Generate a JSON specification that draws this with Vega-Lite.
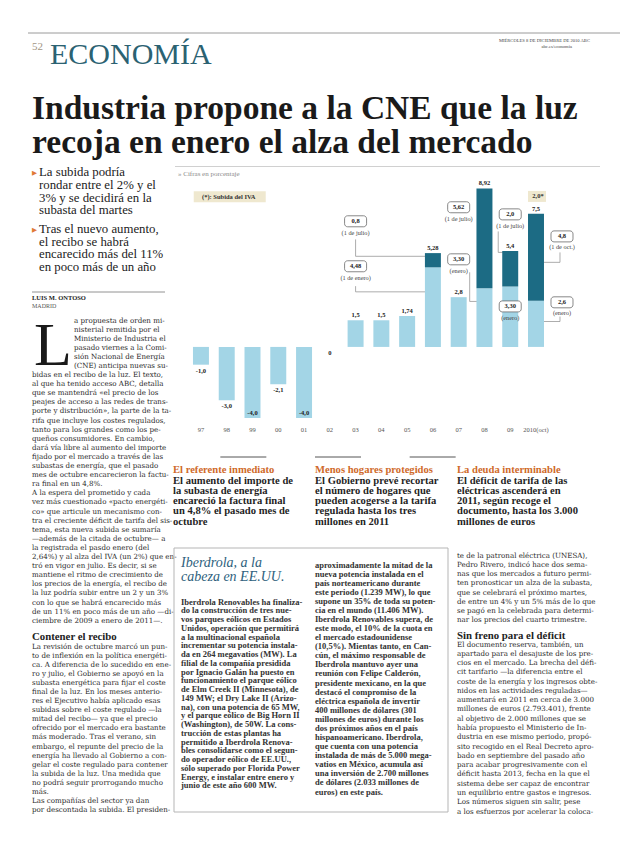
{
"$schema":"https://vega.github.io/schema/vega-lite/v6.json",
"width":620,"height":847,"autosize":{"type":"none"},"padding":0,"background":"#ffffff",
"config":{"view":{"stroke":null},"axis":{"labelFont":"Liberation Serif"}},
"datasets":{
 "bars":[{"year":"97","part":"base","value":-1.0},{"year":"98","part":"base","value":-3.0},{"year":"99","part":"base","value":-4.0},{"year":"00","part":"base","value":-2.1},{"year":"01","part":"base","value":-4.0},{"year":"02","part":"base","value":0},{"year":"03","part":"base","value":1.5},{"year":"04","part":"base","value":1.5},{"year":"05","part":"base","value":1.74},{"year":"06","part":"base","value":4.48},{"year":"06","part":"inc","value":0.8},{"year":"07","part":"base","value":2.8},{"year":"08","part":"base","value":3.3},{"year":"08","part":"inc","value":5.62},{"year":"09","part":"base","value":3.4},{"year":"09","part":"inc","value":2.0},{"year":"2010(oct)","part":"base","value":2.6},{"year":"2010(oct)","part":"inc","value":4.9}],
 "totals":[{"year":"97","total":-1.0,"label":"-1,0"},{"year":"98","total":-3.0,"label":"-3,0"},{"year":"99","total":-4.0,"label":"-4,0"},{"year":"00","total":-2.1,"label":"-2,1"},{"year":"01","total":-4.0,"label":"-4,0"},{"year":"02","total":0,"label":"0"},{"year":"03","total":1.5,"label":"1,5"},{"year":"04","total":1.5,"label":"1,5"},{"year":"05","total":1.74,"label":"1,74"},{"year":"06","total":5.28,"label":"5,28"},{"year":"07","total":2.8,"label":"2,8"},{"year":"08","total":8.92,"label":"8,92"},{"year":"09","total":5.4,"label":"5,4"},{"year":"2010(oct)","total":7.5,"label":"7,5"}],
 "notes":[{"year":"03","level":7.07,"num":"0,8","note":"(1 de julio)"},{"year":"03","level":4.54,"num":"4,48","note":"(1 de enero)"},{"year":"07","level":7.86,"num":"5,62","note":"(1 de julio)"},{"year":"07","level":4.93,"num":"3,30","note":"(enero)"},{"year":"09","level":7.46,"num":"2,0","note":"(1 de julio)"},{"year":"09","level":2.28,"num":"3,30","note":"(enero)"},{"year":"2010(oct)","level":6.22,"num":"4,8","note":"(1 de oct.)"},{"year":"2010(oct)","level":2.51,"num":"2,6","note":"(enero)"}],
 "links":[{"grp":"06","seg":"v","year":"03","year2":"03","level":6.05,"level2":5.1},{"grp":"06","seg":"h","year":"03","year2":"06","level":5.1,"level2":5.1},{"grp":"06","seg":"v","year":"03","year2":"03","level":3.42,"level2":3.1},{"grp":"06","seg":"h","year":"03","year2":"06","level":3.1,"level2":3.1},{"grp":"08","seg":"v","year":"07","year2":"07","level":4.2,"level2":2.56},{"grp":"08","seg":"h","year":"07","year2":"08","level":2.56,"level2":2.56},{"grp":"09","seg":"v","year":"09","year2":"09","level":6.5,"level2":5.32},{"grp":"09","seg":"h","year":"09","year2":"09","level":5.32,"level2":5.32},{"grp":"10","seg":"v","year":"2010(oct)","year2":"2010(oct)","level":5.32,"level2":4.76},{"grp":"10","seg":"h","year":"2010(oct)","year2":"2010(oct)","level":4.76,"level2":4.76},{"grp":"10","seg":"v","year":"2010(oct)","year2":"2010(oct)","level":1.71,"level2":1.43},{"grp":"10","seg":"h","year":"2010(oct)","year2":"2010(oct)","level":1.43,"level2":1.43}],
 "keys":[{"year":"98","level":8.45,"text":"(*): Subida del IVA"},{"year":"2010(oct)","level":8.47,"text":"2,0*"}]
},
"resolve":{"scale":{"x":"independent","y":"independent"}},
"layer":[
 {"data":{"values":[{"k":"a"}]},"mark":{"type":"rule","color":"#9a9a9a","strokeWidth":1,"x2Offset":592},"encoding":{"x":{"field":"k","type":"nominal","scale":{"range":[28,28]},"axis":null},"x2":{"field":"k"},"y":{"field":"k","type":"nominal","scale":{"range":[33,33]},"axis":null}}},
 {"data":{"values":[{"k":"a","t":"52"}]},"mark":{"type":"text","align":"left","baseline":"alphabetic","font":"Liberation Serif","fontSize":11,"color":"#a39584"},"encoding":{"x":{"field":"k","type":"nominal","scale":{"range":[32,32]},"axis":null},"y":{"field":"k","type":"nominal","scale":{"range":[50,50]},"axis":null},"text":{"field":"t"}}},
 {"data":{"values":[{"k":"a","t":"ECONOMÍA"}]},"mark":{"type":"text","align":"left","baseline":"alphabetic","font":"Liberation Serif","fontSize":30,"color":"#2b6272"},"encoding":{"x":{"field":"k","type":"nominal","scale":{"range":[50,50]},"axis":null},"y":{"field":"k","type":"nominal","scale":{"range":[64,64]},"axis":null},"text":{"field":"t"}}},
 {"data":{"values":[{"k":"a","t":"MIÉRCOLES 8 DE DICIEMBRE DE 2010      ABC"}]},"mark":{"type":"text","align":"right","baseline":"alphabetic","font":"Liberation Serif","fontSize":4.6,"color":"#444444"},"encoding":{"x":{"field":"k","type":"nominal","scale":{"range":[590,590]},"axis":null},"y":{"field":"k","type":"nominal","scale":{"range":[42,42]},"axis":null},"text":{"field":"t"}}},
 {"data":{"values":[{"k":"a","t":"abc.es/economia"}]},"mark":{"type":"text","align":"right","baseline":"alphabetic","font":"Liberation Serif","fontSize":4.6,"color":"#444444"},"encoding":{"x":{"field":"k","type":"nominal","scale":{"range":[572,572]},"axis":null},"y":{"field":"k","type":"nominal","scale":{"range":[48,48]},"axis":null},"text":{"field":"t"}}},
 {"data":{"values":[{"k":"a","t":"Industria propone a la CNE que la luz\nrecoja en enero el alza del mercado"}]},"mark":{"type":"text","align":"left","baseline":"alphabetic","font":"Liberation Serif","fontSize":33.5,"fontWeight":"bold","color":"#1a1a1a","lineBreak":"\n","lineHeight":33.6},"encoding":{"x":{"field":"k","type":"nominal","scale":{"range":[32,32]},"axis":null},"y":{"field":"k","type":"nominal","scale":{"range":[119,119]},"axis":null},"text":{"field":"t"}}},
 {"data":{"values":[{"k":"b1","t":"▶"},{"k":"b2","t":"▶"}]},"mark":{"type":"text","align":"left","baseline":"alphabetic","font":"DejaVu Sans","fontSize":6.5,"color":"#e07a35"},"encoding":{"x":{"field":"k","type":"nominal","scale":{"range":[32,32]},"axis":null},"y":{"field":"k","type":"nominal","scale":{"domain":["b1","b2"],"range":[174.5,231.5],"padding":0},"axis":null},"text":{"field":"t"}}},
 {"data":{"values":[{"k":"a","t":"La subida podría\nrondar entre el 2% y el\n3% y se decidirá en la\nsubasta del martes"}]},"mark":{"type":"text","align":"left","baseline":"alphabetic","font":"Liberation Serif","fontSize":12.8,"color":"#222222","lineBreak":"\n","lineHeight":12.8},"encoding":{"x":{"field":"k","type":"nominal","scale":{"range":[39,39]},"axis":null},"y":{"field":"k","type":"nominal","scale":{"range":[176,176]},"axis":null},"text":{"field":"t"}}},
 {"data":{"values":[{"k":"a","t":"Tras el nuevo aumento,\nel recibo se habrá\nencarecido más del 11%\nen poco más de un año"}]},"mark":{"type":"text","align":"left","baseline":"alphabetic","font":"Liberation Serif","fontSize":12.8,"color":"#222222","lineBreak":"\n","lineHeight":12.5},"encoding":{"x":{"field":"k","type":"nominal","scale":{"range":[39,39]},"axis":null},"y":{"field":"k","type":"nominal","scale":{"range":[233,233]},"axis":null},"text":{"field":"t"}}},
 {"data":{"values":[{"k":"a"}]},"mark":{"type":"rule","color":"#777777","strokeWidth":0.8,"x2Offset":133},"encoding":{"x":{"field":"k","type":"nominal","scale":{"range":[32,32]},"axis":null},"x2":{"field":"k"},"y":{"field":"k","type":"nominal","scale":{"range":[292,292]},"axis":null}}},
 {"data":{"values":[{"k":"a","t":"LUIS M. ONTOSO"}]},"mark":{"type":"text","align":"left","baseline":"alphabetic","font":"Liberation Serif","fontSize":6.5,"fontWeight":"bold","color":"#222222"},"encoding":{"x":{"field":"k","type":"nominal","scale":{"range":[32,32]},"axis":null},"y":{"field":"k","type":"nominal","scale":{"range":[299.5,299.5]},"axis":null},"text":{"field":"t"}}},
 {"data":{"values":[{"k":"a","t":"MADRID"}]},"mark":{"type":"text","align":"left","baseline":"alphabetic","font":"Liberation Serif","fontSize":6,"color":"#555555"},"encoding":{"x":{"field":"k","type":"nominal","scale":{"range":[32,32]},"axis":null},"y":{"field":"k","type":"nominal","scale":{"range":[307.5,307.5]},"axis":null},"text":{"field":"t"}}},
 {"data":{"values":[{"k":"a","t":"L"}]},"mark":{"type":"text","align":"left","baseline":"alphabetic","font":"Liberation Serif","fontSize":62,"color":"#1a1a1a"},"encoding":{"x":{"field":"k","type":"nominal","scale":{"range":[34,34]},"axis":null},"y":{"field":"k","type":"nominal","scale":{"range":[365,365]},"axis":null},"text":{"field":"t"}}},
 {"data":{"values":[{"k":"a","t":"a propuesta de orden mi-\nnisterial remitida por el\nMinisterio de Industria el\npasado viernes a la Comi-\nsión Nacional de Energía\n(CNE) anticipa nuevas su-"}]},"mark":{"type":"text","align":"left","baseline":"alphabetic","font":"DejaVu Serif","fontSize":7.1,"color":"#2a2a2a","lineBreak":"\n","lineHeight":9.1},"encoding":{"x":{"field":"k","type":"nominal","scale":{"range":[74,74]},"axis":null},"y":{"field":"k","type":"nominal","scale":{"range":[322.5,322.5]},"axis":null},"text":{"field":"t"}}},
 {"data":{"values":[{"k":"a","t":"bidas en el recibo de la luz. El texto,\nal que ha tenido acceso ABC, detalla\nque se mantendrá «el precio de los\npeajes de acceso a las redes de trans-\nporte y distribución», la parte de la ta-\nrifa que incluye los costes regulados,\ntanto para los grandes como los pe-\nqueños consumidores. En cambio,\ndará vía libre al aumento del importe\nfijado por el mercado a través de las\nsubastas de energía, que el pasado\nmes de octubre encarecieron la factu-\nra final en un 4,8%.\n    A la espera del prometido y cada\nvez más cuestionado «pacto energéti-\nco» que articule un mecanismo con-\ntra el creciente déficit de tarifa del sis-\ntema, esta nueva subida se sumaría\n—además de la citada de octubre— a\nla registrada el pasdo enero (del\n2,64%) y al alza del IVA (un 2%) que en-\ntró en vigor en julio. Es decir, si se\nmantiene el ritmo de crecimiento de\nlos precios de la energía, el recibo de\nla luz podría subir entre un 2 y un 3%\ncon lo que se habrá encarecido más\nde un 11% en poco más de un año —di-\nciembre de 2009 a enero de 2011—."}]},"mark":{"type":"text","align":"left","baseline":"alphabetic","font":"DejaVu Serif","fontSize":7.1,"color":"#2a2a2a","lineBreak":"\n","lineHeight":9.1},"encoding":{"x":{"field":"k","type":"nominal","scale":{"range":[32,32]},"axis":null},"y":{"field":"k","type":"nominal","scale":{"range":[377.1,377.1]},"axis":null},"text":{"field":"t"}}},
 {"data":{"values":[{"k":"a","t":"Contener el recibo"}]},"mark":{"type":"text","align":"left","baseline":"alphabetic","font":"Liberation Serif","fontSize":10.8,"fontWeight":"bold","color":"#222222"},"encoding":{"x":{"field":"k","type":"nominal","scale":{"range":[32,32]},"axis":null},"y":{"field":"k","type":"nominal","scale":{"range":[640,640]},"axis":null},"text":{"field":"t"}}},
 {"data":{"values":[{"k":"a","t":"La revisión de octubre marcó un pun-\nto de inflexión en la política energéti-\nca. A diferencia de lo sucedido en ene-\nro y julio, el Gobierno se apoyó en la\nsubasta energética para fijar el coste\nfinal de la luz. En los meses anterio-\nres el Ejecutivo había aplicado esas\nsubidas sobre el coste regulado —la\nmitad del recibo— ya que el precio\nofrecido por el mercado era bastante\nmás moderado. Tras el verano, sin\nembargo, el repunte del precio de la\nenergía ha llevado al Gobierno a con-\ngelar el coste regulado para contener\nla subida de la luz. Una medida que\nno podrá seguir prorrogando mucho\nmás.\n    Las compañías del sector ya dan\npor descontada la subida. El presiden-"}]},"mark":{"type":"text","align":"left","baseline":"alphabetic","font":"DejaVu Serif","fontSize":7.1,"color":"#2a2a2a","lineBreak":"\n","lineHeight":9.1},"encoding":{"x":{"field":"k","type":"nominal","scale":{"range":[32,32]},"axis":null},"y":{"field":"k","type":"nominal","scale":{"range":[648.5,648.5]},"axis":null},"text":{"field":"t"}}},
 {"data":{"values":[{"k":"a"}]},"mark":{"type":"rule","color":"#d0d0d0","strokeWidth":1,"x2Offset":425},"encoding":{"x":{"field":"k","type":"nominal","scale":{"range":[175,175]},"axis":null},"x2":{"field":"k"},"y":{"field":"k","type":"nominal","scale":{"range":[166.5,166.5]},"axis":null}}},
 {"data":{"values":[{"k":"a","t":"»  Cifras en porcentaje"}]},"mark":{"type":"text","align":"left","baseline":"alphabetic","font":"Liberation Serif","fontSize":7,"color":"#8a8a8a"},"encoding":{"x":{"field":"k","type":"nominal","scale":{"range":[178,178]},"axis":null},"y":{"field":"k","type":"nominal","scale":{"range":[175.5,175.5]},"axis":null},"text":{"field":"t"}}},
 {
  "encoding":{"x":{"field":"year","type":"ordinal","scale":{"domain":["97","98","99","00","01","02","03","04","05","06","07","08","09","2010(oct)"],"range":[186,578],"paddingInner":0.38,"paddingOuter":0.795,"align":0.17},"axis":{"orient":"bottom","offset":-429,"domain":false,"ticks":false,"grid":false,"labelAngle":0,"labelPadding":8,"labelFontSize":6.5,"labelColor":"#555555","labelFont":"Liberation Serif","title":null}}},
  "layer":[
   {"data":{"name":"links"},"transform":[{"filter":"datum.grp === '06'"}],"mark":{"type":"rule","color":"#8a8a8a","strokeWidth":0.7},"encoding":{"x2":{"field":"year2"},"y":{"field":"level","type":"quantitative","scale":{"domain":[-4,9],"range":[418,187],"nice":false,"zero":false},"axis":null},"y2":{"field":"level2"}}},
   {"data":{"name":"links"},"transform":[{"filter":"datum.grp === '08' && datum.seg === 'v'"}],"mark":{"type":"rule","color":"#8a8a8a","strokeWidth":0.7,"xOffset":11,"x2Offset":11},"encoding":{"x2":{"field":"year2"},"y":{"field":"level","type":"quantitative","scale":{"domain":[-4,9],"range":[418,187],"nice":false,"zero":false},"axis":null},"y2":{"field":"level2"}}},
   {"data":{"name":"links"},"transform":[{"filter":"datum.grp === '08' && datum.seg === 'h'"}],"mark":{"type":"rule","color":"#8a8a8a","strokeWidth":0.7,"xOffset":11,"x2Offset":0},"encoding":{"x2":{"field":"year2"},"y":{"field":"level","type":"quantitative","scale":{"domain":[-4,9],"range":[418,187],"nice":false,"zero":false},"axis":null},"y2":{"field":"level2"}}},
   {"data":{"name":"links"},"transform":[{"filter":"datum.grp === '09' && datum.seg === 'v'"}],"mark":{"type":"rule","color":"#8a8a8a","strokeWidth":0.7,"xOffset":-12,"x2Offset":-12},"encoding":{"x2":{"field":"year2"},"y":{"field":"level","type":"quantitative","scale":{"domain":[-4,9],"range":[418,187],"nice":false,"zero":false},"axis":null},"y2":{"field":"level2"}}},
   {"data":{"name":"links"},"transform":[{"filter":"datum.grp === '09' && datum.seg === 'h'"}],"mark":{"type":"rule","color":"#8a8a8a","strokeWidth":0.7,"xOffset":-12,"x2Offset":0},"encoding":{"x2":{"field":"year2"},"y":{"field":"level","type":"quantitative","scale":{"domain":[-4,9],"range":[418,187],"nice":false,"zero":false},"axis":null},"y2":{"field":"level2"}}},
   {"data":{"name":"links"},"transform":[{"filter":"datum.grp === '10' && datum.seg === 'v'"}],"mark":{"type":"rule","color":"#8a8a8a","strokeWidth":0.7,"xOffset":24,"x2Offset":24},"encoding":{"x2":{"field":"year2"},"y":{"field":"level","type":"quantitative","scale":{"domain":[-4,9],"range":[418,187],"nice":false,"zero":false},"axis":null},"y2":{"field":"level2"}}},
   {"data":{"name":"links"},"transform":[{"filter":"datum.grp === '10' && datum.seg === 'h'"}],"mark":{"type":"rule","color":"#8a8a8a","strokeWidth":0.7,"xOffset":24,"x2Offset":0},"encoding":{"x2":{"field":"year2"},"y":{"field":"level","type":"quantitative","scale":{"domain":[-4,9],"range":[418,187],"nice":false,"zero":false},"axis":null},"y2":{"field":"level2"}}},
   {"data":{"name":"bars"},"mark":{"type":"bar"},"encoding":{"y":{"field":"value","type":"quantitative","stack":"zero","scale":{"domain":[-4,9],"range":[418,187],"nice":false,"zero":false},"axis":{"orient":"left","offset":-186,"values":[-4,-3,-2,-1,0,1,2,3,4,5,6,7,8,9],"grid":true,"gridColor":"#d6d6d6","gridWidth":0.8,"domain":false,"ticks":false,"labelPadding":3,"labelFontSize":7,"labelColor":"#333333","title":null}},"color":{"field":"part","type":"nominal","scale":{"domain":["base","inc"],"range":["#a3d5e6","#1c6b84"]},"legend":null},"order":{"field":"part","type":"ordinal","sort":"ascending"}}},
   {"data":{"name":"totals"},"transform":[{"filter":"datum.total > 0"}],"mark":{"type":"text","baseline":"alphabetic","dy":-3,"font":"Liberation Serif","fontSize":6.5,"fontWeight":"bold","color":"#222222"},"encoding":{"y":{"field":"total","type":"quantitative","scale":{"domain":[-4,9],"range":[418,187],"nice":false,"zero":false},"axis":null},"text":{"field":"label"}}},
   {"data":{"name":"totals"},"transform":[{"filter":"datum.total <= 0 && datum.total > -3.9"}],"mark":{"type":"text","baseline":"top","dy":3,"font":"Liberation Serif","fontSize":6.5,"fontWeight":"bold","color":"#222222"},"encoding":{"y":{"field":"total","type":"quantitative","scale":{"domain":[-4,9],"range":[418,187],"nice":false,"zero":false},"axis":null},"text":{"field":"label"}}},
   {"data":{"name":"totals"},"transform":[{"filter":"datum.total <= -3.9"}],"mark":{"type":"text","baseline":"alphabetic","dy":-3,"font":"Liberation Serif","fontSize":6.5,"fontWeight":"bold","color":"#222222"},"encoding":{"y":{"field":"total","type":"quantitative","scale":{"domain":[-4,9],"range":[418,187],"nice":false,"zero":false},"axis":null},"text":{"field":"label"}}},
   {"data":{"name":"keys"},"transform":[{"filter":"datum.year === '98'"}],"mark":{"type":"point","shape":"M-36,-5.5H36V5.5H-36Z","size":4,"filled":true,"fill":"#efe8cf","strokeWidth":0,"opacity":1,"xOffset":3},"encoding":{"y":{"field":"level","type":"quantitative","scale":{"domain":[-4,9],"range":[418,187],"nice":false,"zero":false},"axis":null}}},
   {"data":{"name":"keys"},"transform":[{"filter":"datum.year === '2010(oct)'"}],"mark":{"type":"point","shape":"M-9,-5.5H9V5.5H-9Z","size":4,"filled":true,"fill":"#efe8cf","strokeWidth":0,"opacity":1,"xOffset":1},"encoding":{"y":{"field":"level","type":"quantitative","scale":{"domain":[-4,9],"range":[418,187],"nice":false,"zero":false},"axis":null}}},
   {"data":{"name":"keys"},"mark":{"type":"text","baseline":"middle","font":"Liberation Serif","fontSize":6.5,"fontWeight":"bold","color":"#333333","xOffset":2},"encoding":{"y":{"field":"level","type":"quantitative","scale":{"domain":[-4,9],"range":[418,187],"nice":false,"zero":false},"axis":null},"text":{"field":"text"}}},
   {"data":{"name":"notes"},"transform":[{"filter":"datum.year !== '2010(oct)'"}],"mark":{"type":"point","shape":"M-8,-5.5H8A3,3 0 0 1 11,-2.5V2.5A3,3 0 0 1 8,5.5H-8A3,3 0 0 1 -11,2.5V-2.5A3,3 0 0 1 -8,-5.5Z","size":4,"filled":true,"fill":"#ffffff","stroke":"#6a6a6a","strokeWidth":0.8,"opacity":1},"encoding":{"y":{"field":"level","type":"quantitative","scale":{"domain":[-4,9],"range":[418,187],"nice":false,"zero":false},"axis":null}}},
   {"data":{"name":"notes"},"transform":[{"filter":"datum.year === '2010(oct)'"}],"mark":{"type":"point","shape":"M-8,-5.5H8A3,3 0 0 1 11,-2.5V2.5A3,3 0 0 1 8,5.5H-8A3,3 0 0 1 -11,2.5V-2.5A3,3 0 0 1 -8,-5.5Z","size":4,"filled":true,"fill":"#ffffff","stroke":"#6a6a6a","strokeWidth":0.8,"opacity":1,"xOffset":26},"encoding":{"y":{"field":"level","type":"quantitative","scale":{"domain":[-4,9],"range":[418,187],"nice":false,"zero":false},"axis":null}}},
   {"data":{"name":"notes"},"transform":[{"filter":"datum.year !== '2010(oct)'"}],"mark":{"type":"text","baseline":"middle","font":"Liberation Serif","fontSize":6.5,"fontWeight":"bold","color":"#222222"},"encoding":{"y":{"field":"level","type":"quantitative","scale":{"domain":[-4,9],"range":[418,187],"nice":false,"zero":false},"axis":null},"text":{"field":"num"}}},
   {"data":{"name":"notes"},"transform":[{"filter":"datum.year === '2010(oct)'"}],"mark":{"type":"text","baseline":"middle","font":"Liberation Serif","fontSize":6.5,"fontWeight":"bold","color":"#222222","xOffset":26},"encoding":{"y":{"field":"level","type":"quantitative","scale":{"domain":[-4,9],"range":[418,187],"nice":false,"zero":false},"axis":null},"text":{"field":"num"}}},
   {"data":{"name":"notes"},"transform":[{"filter":"datum.year !== '2010(oct)'"}],"mark":{"type":"text","baseline":"middle","dy":12,"font":"Liberation Serif","fontSize":6.3,"color":"#444444"},"encoding":{"y":{"field":"level","type":"quantitative","scale":{"domain":[-4,9],"range":[418,187],"nice":false,"zero":false},"axis":null},"text":{"field":"note"}}},
   {"data":{"name":"notes"},"transform":[{"filter":"datum.year === '2010(oct)'"}],"mark":{"type":"text","baseline":"middle","dy":11,"font":"Liberation Serif","fontSize":6.3,"color":"#444444","xOffset":26},"encoding":{"y":{"field":"level","type":"quantitative","scale":{"domain":[-4,9],"range":[418,187],"nice":false,"zero":false},"axis":null},"text":{"field":"note"}}}
  ]
 },
 {"data":{"values":[{"c":"c1"},{"c":"c2"},{"c":"c3"}]},"mark":{"type":"rule","color":"#555555","strokeWidth":1,"x2Offset":46},"encoding":{"x":{"field":"c","type":"nominal","scale":{"domain":["c1","c2","c3"],"range":[173,457],"padding":0},"axis":null},"x2":{"field":"c"},"y":{"field":"c","type":"nominal","scale":{"range":[457,457]},"axis":null}}},
 {"data":{"values":[{"c":"c1","t":"El referente inmediato"},{"c":"c2","t":"Menos hogares protegidos"},{"c":"c3","t":"La deuda interminable"}]},"mark":{"type":"text","align":"left","baseline":"alphabetic","font":"Liberation Serif","fontSize":10.6,"fontWeight":"bold","color":"#cf6a2a"},"encoding":{"x":{"field":"c","type":"nominal","scale":{"domain":["c1","c2","c3"],"range":[173,457],"padding":0},"axis":null},"y":{"field":"c","type":"nominal","scale":{"range":[473.2,473.2]},"axis":null},"text":{"field":"t"}}},
 {"data":{"values":[{"c":"c1","t":"El aumento del importe de\nla subasta de energía\nencareció la factura final\nun 4,8% el pasado mes de\noctubre"},{"c":"c2","t":"El Gobierno prevé recortar\nel número de hogares que\npueden acogerse a la tarifa\nregulada hasta los tres\nmillones en 2011"},{"c":"c3","t":"El déficit de tarifa de las\neléctricas ascenderá en\n2011, según recoge el\ndocumento, hasta los 3.000\nmillones de euros"}]},"mark":{"type":"text","align":"left","baseline":"alphabetic","font":"Liberation Serif","fontSize":10.6,"fontWeight":"bold","color":"#1f1f1f","lineBreak":"\n","lineHeight":10.3},"encoding":{"x":{"field":"c","type":"nominal","scale":{"domain":["c1","c2","c3"],"range":[173,457],"padding":0},"axis":null},"y":{"field":"c","type":"nominal","scale":{"range":[483.6,483.6]},"axis":null},"text":{"field":"t"}}},
 {"data":{"values":[{"k":"a"}]},"mark":{"type":"point","shape":"M-137,-132H137V132H-137Z","size":4,"filled":false,"stroke":"#b5b5b5","strokeWidth":1,"opacity":1},"encoding":{"x":{"field":"k","type":"nominal","scale":{"range":[311,311]},"axis":null},"y":{"field":"k","type":"nominal","scale":{"range":[680,680]},"axis":null}}},
 {"data":{"values":[{"k":"a","t":"Iberdrola, a la\ncabeza en EE.UU."}]},"mark":{"type":"text","align":"left","baseline":"alphabetic","font":"Liberation Serif","fontSize":14,"fontStyle":"italic","color":"#2e5f7d","lineBreak":"\n","lineHeight":14.2},"encoding":{"x":{"field":"k","type":"nominal","scale":{"range":[181,181]},"axis":null},"y":{"field":"k","type":"nominal","scale":{"range":[567,567]},"axis":null},"text":{"field":"t"}}},
 {"data":{"values":[{"k":"a","t":"Iberdrola Renovables ha finaliza-\ndo la construcción de tres nue-\nvos parques eólicos en Estados\nUnidos, operación que permitirá\na la multinacional española\nincrementar su potencia instala-\nda en 264 megavatios (MW). La\nfilial de la compañía presidida\npor Ignacio Galán ha puesto en\nfuncionamiento el parque eólico\nde Elm Creek II (Minnesota), de\n149 MW; el Dry Lake II (Arizo-\nna), con una potencia de 65 MW,\ny el parque eólico de Big Horn II\n(Washington), de 50W. La cons-\ntrucción de estas plantas ha\npermitido a Iberdrola Renova-\nbles consolidarse como el segun-\ndo operador eólico de EE.UU.,\nsólo superado por Florida Power\nEnergy, e instalar entre enero y\njunio de este año 600 MW."}]},"mark":{"type":"text","align":"left","baseline":"alphabetic","font":"Liberation Serif","fontSize":8.5,"fontWeight":"bold","color":"#333333","lineBreak":"\n","lineHeight":8.75},"encoding":{"x":{"field":"k","type":"nominal","scale":{"range":[181,181]},"axis":null},"y":{"field":"k","type":"nominal","scale":{"range":[604.5,604.5]},"axis":null},"text":{"field":"t"}}},
 {"data":{"values":[{"k":"a","t":"aproximadamente la mitad de la\nnueva potencia instalada en el\npaís norteamericano durante\neste periodo (1.239 MW), lo que\nsupone un 35% de toda su poten-\ncia en el mundo (11.406 MW).\nIberdrola Renovables supera, de\neste modo, el 10% de la cuota en\nel mercado estadounidense\n(10,5%). Mientas tanto, en Can-\ncún, el máximo responsable de\nIberdrola mantuvo ayer una\nreunión con Felipe Calderón,\npresidente mexicano, en la que\ndestacó el compromiso de la\neléctrica española de invertir\n400 millones de dólares (301\nmillones de euros) durante los\ndos próximos años en el país\nhispanoamericano. Iberdrola,\nque cuenta con una potencia\ninstalada de más de 5.000 mega-\nvatios en México, acumula así\nuna inversión de 2.700 millones\nde dólares (2.033 millones de\neuros) en este país."}]},"mark":{"type":"text","align":"left","baseline":"alphabetic","font":"Liberation Serif","fontSize":8.5,"fontWeight":"bold","color":"#333333","lineBreak":"\n","lineHeight":9.08},"encoding":{"x":{"field":"k","type":"nominal","scale":{"range":[315,315]},"axis":null},"y":{"field":"k","type":"nominal","scale":{"range":[567.5,567.5]},"axis":null},"text":{"field":"t"}}},
 {"data":{"values":[{"k":"a","t":"te de la patronal eléctrica (UNESA),\nPedro Rivero, indicó hace dos sema-\nnas que los mercados a futuro permi-\nten pronosticar un alza de la subasta,\nque se celebrará el próximo martes,\nde entre un 4% y un 5% más de lo que\nse pagó en la celebrada para determi-\nnar los precios del cuarto trimestre."}]},"mark":{"type":"text","align":"left","baseline":"alphabetic","font":"DejaVu Serif","fontSize":7.1,"color":"#2a2a2a","lineBreak":"\n","lineHeight":9.28},"encoding":{"x":{"field":"k","type":"nominal","scale":{"range":[457,457]},"axis":null},"y":{"field":"k","type":"nominal","scale":{"range":[557.5,557.5]},"axis":null},"text":{"field":"t"}}},
 {"data":{"values":[{"k":"a","t":"Sin freno para el déficit"}]},"mark":{"type":"text","align":"left","baseline":"alphabetic","font":"Liberation Serif","fontSize":10.8,"fontWeight":"bold","color":"#222222"},"encoding":{"x":{"field":"k","type":"nominal","scale":{"range":[457,457]},"axis":null},"y":{"field":"k","type":"nominal","scale":{"range":[639,639]},"axis":null},"text":{"field":"t"}}},
 {"data":{"values":[{"k":"a","t":"El documento reserva, también, un\napartado para el desajuste de los pre-\ncios en el mercado. La brecha del défi-\ncit tarifario —la diferencia entre el\ncoste de la energía y los ingresos obte-\nnidos en las actividades reguladas—\naumentará en 2011 en cerca de 3.000\nmillones de euros (2.793.401), frente\nal objetivo de 2.000 millones que se\nhabía propuesto el Ministerio de In-\ndustria en ese mismo periodo, propó-\nsito recogido en el Real Decreto apro-\nbado en septiembre del pasado año\npara acabar progresivamente con el\ndéficit hasta 2013, fecha en la que el\nsistema debe ser capaz de encontrar\nun equilibrio entre gastos e ingresos.\n    Los números siguen sin salir, pese\na los esfuerzos por acelerar la coloca-"}]},"mark":{"type":"text","align":"left","baseline":"alphabetic","font":"DejaVu Serif","fontSize":7.1,"color":"#2a2a2a","lineBreak":"\n","lineHeight":9.28},"encoding":{"x":{"field":"k","type":"nominal","scale":{"range":[457,457]},"axis":null},"y":{"field":"k","type":"nominal","scale":{"range":[646.5,646.5]},"axis":null},"text":{"field":"t"}}}
]
}
